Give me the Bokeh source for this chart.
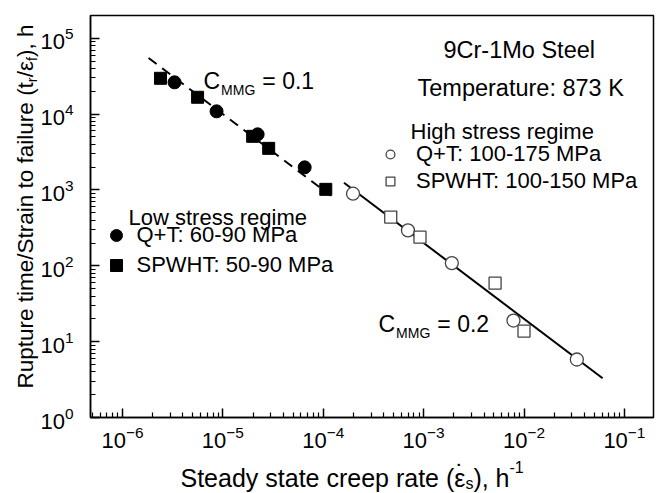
import math
from bokeh.plotting import figure
from bokeh.models import Range1d, FixedTicker, Label, Legend, LegendItem, GridBox
from bokeh.embed import file_html
from bokeh.resources import INLINE

FONT = "Liberation Sans"

# ---- data ----
low_qt_rate = [3.3e-6, 8.65e-6, 2.22e-5, 6.53e-5]
low_qt_ttf = [2.63e4, 1.09e4, 5.42e3, 1.99e3]
low_sp_rate = [2.39e-6, 5.6e-6, 1.98e-5, 2.86e-5, 1.06e-4]
low_sp_ttf = [2.97e4, 1.67e4, 5.1e3, 3.54e3, 1.02e3]
high_qt_rate = [1.98e-4, 6.98e-4, 1.91e-3, 7.85e-3, 3.36e-2]
high_qt_ttf = [894, 293, 108.6, 19.0, 5.82]
high_sp_rate = [4.7e-4, 9.2e-4, 5.15e-3, 1.0e-2]
high_sp_ttf = [439, 239, 59.1, 13.8]
fit_low_rate = [1.82e-6, 1.19e-4]
fit_low_ttf = [5.5e4, 840]
fit_high_rate = [1.61e-4, 0.0607]
fit_high_ttf = [1244, 3.3]

x_lim = (4.8e-7, 0.195)
y_lim = (1.0, 2.0e5)
x_major = [1e-6, 1e-5, 1e-4, 1e-3, 1e-2, 1e-1]
y_major = [1, 10, 100, 1e3, 1e4, 1e5]
x_minor = [m * 10.0 ** e for e in range(-7, 0) for m in range(2, 10)]
y_minor = [m * 10.0 ** e for e in range(0, 6) for m in range(2, 10)]

# Arial / Liberation Sans advance widths (1/1000 em)
W = {' ': 278, '(': 333, ')': 333, ',': 278, '/': 278, '-': 333, '.': 278, ':': 278,
     '=': 584, '+': 584, 'ε': 446,
     'A': 667, 'C': 722, 'G': 778, 'H': 722, 'K': 667, 'M': 833, 'P': 667, 'Q': 778,
     'R': 722, 'S': 667, 'T': 611, 'W': 944,
     'a': 556, 'b': 556, 'c': 500, 'd': 556, 'e': 556, 'f': 278, 'g': 556, 'h': 556,
     'i': 222, 'l': 222, 'm': 833, 'n': 556, 'o': 556, 'p': 556, 'r': 333, 's': 500,
     't': 278, 'u': 556, 'y': 500, 'x': 500}
for d in '0123456789':
    W[d] = 556


def tw(s, size):
    return sum(W.get(c, 556) for c in s) / 1000.0 * size


WIDTH, HEIGHT = 661, 493

p = figure(width=WIDTH, height=HEIGHT, x_axis_type="log", y_axis_type="log",
           x_range=Range1d(*x_lim), y_range=Range1d(*y_lim),
           output_backend="svg", toolbar_location=None, title=None,
           min_border_left=90, min_border_right=8, min_border_top=15, min_border_bottom=76)
p.frame_align = False
p.background_fill_color = "white"
p.border_fill_color = "white"
p.xgrid.visible = False
p.ygrid.visible = False
p.outline_line_color = "black"
p.outline_line_width = 1.5
p.outline_line_alpha = 1.0

p.xaxis.ticker = FixedTicker(ticks=x_major, minor_ticks=x_minor)
p.yaxis.ticker = FixedTicker(ticks=y_major, minor_ticks=y_minor)
for ax in (p.xaxis[0], p.yaxis[0]):
    ax.axis_line_width = 1.5
    ax.axis_line_color = "black"
    ax.major_tick_in = 9
    ax.major_tick_out = 0
    ax.minor_tick_in = 5
    ax.minor_tick_out = 0
    ax.major_tick_line_width = 1.5
    ax.minor_tick_line_width = 1.2
    ax.major_label_text_font = FONT
    ax.major_label_text_font_size = "22px"
    ax.major_label_text_color = "black"
    ax.axis_label = None
p.xaxis.major_label_standoff = 8
p.yaxis.major_label_standoff = 17

# fit lines
p.line(fit_low_rate, fit_low_ttf, line_color="black", line_width=2, line_dash="10 7")
p.line(fit_high_rate, fit_high_ttf, line_color="black", line_width=2)

# markers
r_lsp = p.scatter(low_sp_rate, low_sp_ttf, marker="square", size=12,
                  fill_color="black", line_color="black")
r_lqt = p.scatter(low_qt_rate, low_qt_ttf, marker="circle", size=13,
                  fill_color="black", line_color="black")
r_hqt = p.scatter(high_qt_rate, high_qt_ttf, marker="circle", size=13,
                  fill_color="white", line_color="#444444", line_width=1.3)
r_hsp = p.scatter(high_sp_rate, high_sp_ttf, marker="square", size=12,
                  fill_color="white", line_color="#444444", line_width=1.3)

# legends
leg_low = Legend(items=[LegendItem(label="Q+T: 60-90 MPa", renderers=[r_lqt]),
                        LegendItem(label="SPWHT: 50-90 MPa", renderers=[r_lsp])],
                 location=(10.5, 137), glyph_width=30, glyph_height=30, label_height=30,
                 spacing=0, padding=0, margin=0, label_standoff=6,
                 label_text_font=FONT, label_text_font_size="22px", label_text_color="black",
                 background_fill_alpha=0, border_line_alpha=0)
leg_high = Legend(items=[LegendItem(label="Q+T: 100-175 MPa", renderers=[r_hqt]),
                         LegendItem(label="SPWHT: 100-150 MPa", renderers=[r_hsp])],
                  location=(289, 223), glyph_width=22, glyph_height=26, label_height=26,
                  spacing=1, padding=0, margin=0, label_standoff=15,
                  label_text_font=FONT, label_text_font_size="22px", label_text_color="black",
                  background_fill_alpha=0, border_line_alpha=0)
p.add_layout(leg_low, "center")
p.add_layout(leg_high, "center")


def lab(fig, text, x, y, size, angle=0.0, align="left"):
    fig.add_layout(Label(x=x, y=y, x_units="screen", y_units="screen", text=text,
                         text_font=FONT, text_font_size=f"{size}px", text_color="black",
                         text_baseline="alphabetic", text_align=align, angle=angle))


# annotation texts (frame-relative screen pixels)
lab(p, "9Cr-1Mo Steel", 353, 368, 23.5)
lab(p, "Temperature: 873 K", 327, 330, 23.5)
lab(p, "High stress regime", 320, 286, 22)
lab(p, "Low stress regime", 38, 200, 22)

# C_MMG labels
for (cx, cy, val) in [(113, 337, "= 0.1"), (288, 94, "= 0.2")]:
    lab(p, "C", cx, cy, 23)
    sx = cx + tw("C", 23) + 1
    lab(p, "MMG", sx, cy - 9, 14)
    lab(p, val, sx + tw("MMG", 14) + 7, cy, 23)

# ---- transparent overlay figure carrying the composed axis titles ----
ov = figure(width=WIDTH, height=HEIGHT, x_range=Range1d(0, 1), y_range=Range1d(0, 1),
            output_backend="svg", toolbar_location=None, title=None,
            x_axis_location=None, y_axis_location=None, min_border=0)
ov.frame_align = False
ov.grid.visible = False
ov.outline_line_color = None
ov.background_fill_alpha = 0
ov.border_fill_alpha = 0

# y-axis title (rotated), with subscripts
yx, yy = 25, 105
half = math.pi / 2
for text, size, off in [("Rupture time/Strain to failure (t", 22.5, 0), ("r", 14.5, 6),
                        ("/ε", 22.5, 0), ("f", 14.5, 6), ("), h", 22.5, 0)]:
    lab(ov, text, yx + off, yy, size, angle=half)
    yy += tw(text, size)

# x-axis title with subscript and superscript
xx, xy = 180, 16
for text, size, off in [("Steady state creep rate (", 25, 0), ("ε", 25, 0), ("s", 16, -6),
                        ("), h", 25, 0), ("-1", 16, 11)]:
    lab(ov, text, xx, xy + off, size)
    if text == "ε":
        lab(ov, "˙", xx + tw("ε", 25) / 2, xy + 4, 25, align="center")
    xx += tw(text, size)

layout = GridBox(children=[(p, 0, 0), (ov, 0, 0)])
open("out.html", "w").write(file_html(layout, INLINE))
